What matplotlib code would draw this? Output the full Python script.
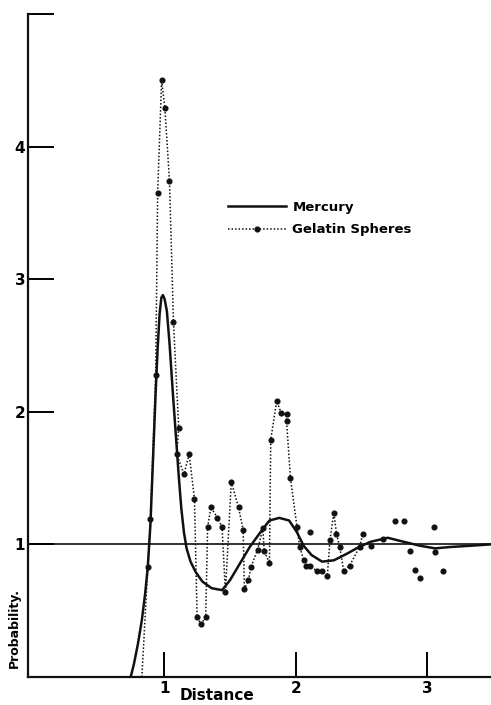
import matplotlib
matplotlib.use("Agg")
import matplotlib.pyplot as plt

# mercury curve
mercury_x = [0.745, 0.77, 0.80, 0.83, 0.855, 0.875, 0.895, 0.915, 0.935, 0.95, 0.965,
             0.978, 0.99, 1.003, 1.02, 1.04, 1.065, 1.09, 1.11, 1.13, 1.15, 1.17, 1.20,
             1.24, 1.29, 1.36, 1.44, 1.50, 1.575, 1.65, 1.73, 1.80, 1.875, 1.95, 2.01,
             2.06, 2.12, 2.20, 2.29, 2.39, 2.48, 2.57, 2.70, 2.82, 2.945, 3.06, 3.17,
             3.33, 3.48]
mercury_y = [0.0, 0.1, 0.25, 0.43, 0.63, 0.83, 1.15, 1.65, 2.15, 2.48, 2.74,
             2.86, 2.88, 2.85, 2.76, 2.52, 2.15, 1.80, 1.52, 1.27, 1.09, 0.97, 0.87,
             0.79, 0.72, 0.67, 0.655, 0.73, 0.855, 0.98, 1.09, 1.18, 1.20, 1.18, 1.09,
             0.99, 0.92, 0.87, 0.88, 0.93, 0.98, 1.02, 1.05, 1.02, 0.99, 0.97, 0.98,
             0.99, 1.0]

# gelatin spheres, joined by the dotted line
gel_x = [0.83, 0.875, 0.895, 0.935, 0.95, 0.98, 1.005, 1.04, 1.07, 1.11, 1.095, 1.15,
         1.19, 1.23, 1.25, 1.28, 1.315, 1.33, 1.355, 1.405, 1.44, 1.465, 1.51, 1.565,
         1.60, 1.61, 1.64, 1.66, 1.71, 1.75, 1.76, 1.80, 1.81, 1.855, 1.89, 1.93, 1.93,
         1.96, 2.01, 2.03, 2.06, 2.08, 2.11, 2.16, 2.20, 2.24, 2.26, 2.29, 2.31, 2.335,
         2.365, 2.41, 2.485, 2.51]
gel_y = [0.0, 0.83, 1.19, 2.28, 3.65, 4.50, 4.29, 3.74, 2.68, 1.88, 1.68, 1.53,
         1.68, 1.34, 0.45, 0.40, 0.45, 1.13, 1.28, 1.20, 1.13, 0.64, 1.47, 1.28,
         1.11, 0.66, 0.73, 0.83, 0.96, 1.12, 0.95, 0.86, 1.79, 2.08, 1.99, 1.98, 1.93,
         1.50, 1.13, 0.98, 0.885, 0.84, 0.84, 0.80, 0.80, 0.76, 1.03, 1.24, 1.08, 0.98,
         0.80, 0.84, 0.98, 1.08]

# loose gelatin points with no line
loose_x = [2.11, 2.575, 2.665, 2.755, 2.82, 2.87, 2.91, 2.945, 3.05, 3.06, 3.12]
loose_y = [1.09, 0.99, 1.04, 1.18, 1.18, 0.95, 0.81, 0.75, 1.13, 0.94, 0.80]

fig = plt.figure(figsize=(4.91, 7.05), dpi=100)
ax = fig.add_axes([28 / 491, 28 / 705, 463 / 491, 663 / 705])

ax.axhline(1.0, color="#111111", lw=1.2, zorder=1)
ax.plot(mercury_x, mercury_y, color="#111111", lw=1.8, label="Mercury", zorder=3)
ax.plot(gel_x, gel_y, color="#111111", lw=1.1, ls=(0, (1, 1.3)), marker="o", ms=3.4,
        markevery=list(range(1, len(gel_x))), label="Gelatin Spheres", zorder=2)
ax.plot(loose_x, loose_y, ls="none", marker="o", ms=3.4, color="#111111", zorder=2)

ax.set_xlim(-0.036, 3.485)
ax.set_ylim(0, 5)

for s in ["top", "right"]:
    ax.spines[s].set_visible(False)
for s in ["left", "bottom"]:
    ax.spines[s].set_linewidth(1.6)
    ax.spines[s].set_color("#111111")

ax.set_xticks([1, 2, 3])
ax.set_xticklabels(["1", "2", "3"])
ax.set_yticks([1, 2, 3, 4, 5])
ax.set_yticklabels(["1", "2", "3", "4", ""])
ax.tick_params(axis="x", direction="in", length=18, width=1.4, pad=3, labelsize=11)
ax.tick_params(axis="y", direction="in", length=19, width=1.4, pad=2, labelsize=11)
for t in ax.get_xticklabels() + ax.get_yticklabels():
    t.set_fontweight("bold")

fig.text(217 / 491, 1 - 696 / 705, "Distance", ha="center", va="center",
         fontsize=11, fontweight="bold")
fig.text(14 / 491, 1 - 628 / 705, "Probability.", ha="center", va="center",
         rotation=90, fontsize=9, fontweight="bold")

ax.legend(loc="upper left", bbox_to_anchor=(0.42, 0.726), frameon=False,
          handlelength=4.4, handletextpad=0.5, labelspacing=0.7, borderaxespad=0,
          prop={"size": 9.5, "weight": "bold"})

fig.savefig("out.png", dpi=100, facecolor="white")
